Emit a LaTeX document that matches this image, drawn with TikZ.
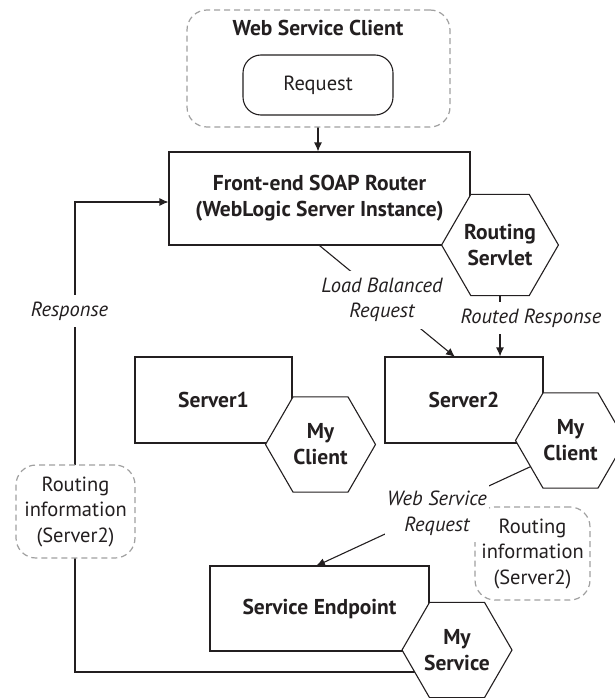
\documentclass[tikz,border=0pt]{standalone}
\usepackage{fontspec}
\setmainfont{PT Sans}
\usetikzlibrary{shapes.geometric,arrows.meta}
\pgfdeclarelayer{bg}
\pgfsetlayers{bg,main}
\definecolor{ink}{HTML}{231F20}
\definecolor{dashgray}{HTML}{A0A0A0}
\newcommand\diagfont{\fontsize{20.5}{25.5}\selectfont}
\newcommand\diagbold{\fontsize{21.5}{26}\selectfont\bfseries}
\begin{document}
\begin{tikzpicture}[x=1pt,y=-1pt,
  every node/.style={font=\diagfont, text=ink, align=center},
  boxnode/.style={draw=ink, line width=1.1pt, fill=white, inner sep=0pt},
  dashbox/.style={draw=dashgray, line width=1.2pt, dash pattern=on 6pt off 4pt, fill=white, rounded corners=20pt, inner sep=0pt},
  hexa/.style={regular polygon, regular polygon sides=6, minimum size=110pt, inner sep=0pt, draw=ink, fill=white, line width=1.1pt, font=\diagbold},
  lbl/.style={fill=white, inner xsep=2pt, inner ysep=7pt, font=\diagfont\itshape},
  conn/.style={draw=ink, line width=1.1pt},
  arr/.style={conn, -{Latex[length=9pt,width=8pt]}}]
\useasboundingbox (0,0) rectangle (615,698);

% client group
\node[dashbox, minimum width=263pt, minimum height=117pt] (wsc) at (318.5,68.5) {};
\node[font=\diagbold] (wsctitle) at (318,28) {Web Service Client};
\node[boxnode, rounded corners=18pt, minimum width=150pt, minimum height=60pt] (request) at (318,85) {Request};

% router
\node[boxnode, minimum width=301pt, minimum height=93pt, font=\diagbold] (router) at (319.5,198.5) {Front-end SOAP Router\\(WebLogic Server Instance)};

% servers
\node[boxnode, minimum width=157pt, minimum height=86pt, font=\diagbold] (server1) at (213.5,400) {Server1};
\node[boxnode, minimum width=158pt, minimum height=86pt, font=\diagbold] (server2) at (464,400) {Server2};
\node[boxnode, minimum width=219pt, minimum height=85pt, font=\diagbold] (endpoint) at (319.5,608.5) {Service Endpoint};

% routing information boxes
\node[dashbox, minimum width=119pt, minimum height=93pt] (info1) at (75.5,511.5) {Routing\\information\\(Server2)};
\node[dashbox, minimum width=115pt, minimum height=93pt] (info2) at (532.5,553.5) {Routing\\information\\(Server2)};

% hexagons
\node[hexa] (servlet) at (500,245) {Routing\\Servlet};
\node[hexa] (client1) at (320.5,444.5) {My\\Client};
\node[hexa] (client2) at (570.5,440.5) {My\\Client};
\node[hexa] (myservice) at (457,650) {My\\Service};

% labels
\node[lbl] (lblload) at (382,300) {Load Balanced\\Request};
\node[lbl] (lblrouted) at (531,318) {Routed Response};
\node[lbl] (lblresp) at (69.5,311) {Response};
\node[lbl] (lblws) at (437,513) {Web Service\\Request};

% helper coordinates
\coordinate (rstart) at (457,672);
\coordinate (rturn) at (75,202);
\coordinate (lbend) at (455,357);
\coordinate (wsstart) at (560,453);
\coordinate (wsend) at (316,566);

\begin{pgfonlayer}{bg}
\draw[arr] (request.south) -- (request.south |- router.north);
\draw[arr] (rstart) -| (rturn) -- (router.west |- rturn);
\draw[arr] (router.south) -- (lbend);
\draw[arr] (servlet.south) -- (servlet.south |- server2.north);
\draw[arr] (wsstart) -- (wsend);
\end{pgfonlayer}
\end{tikzpicture}
\end{document}
